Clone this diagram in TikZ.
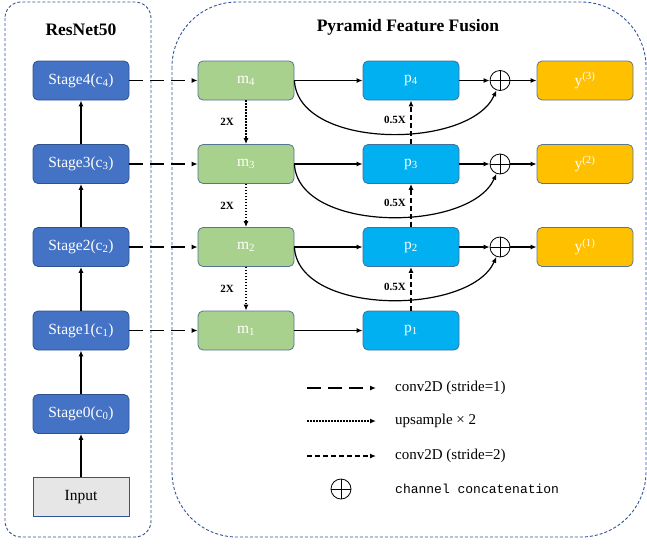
\documentclass[tikz,border=0pt]{standalone}
\usepackage{fontspec}
\setmainfont{Liberation Serif}
\newfontfamily\monofont{Liberation Mono}
\usetikzlibrary{arrows.meta}
\definecolor{stageblue}{HTML}{4472C4}
\definecolor{stageborder}{HTML}{2F528F}
\definecolor{mgreen}{HTML}{A9D18E}
\definecolor{pblue}{HTML}{00B0F0}
\definecolor{yyellow}{HTML}{FFC000}
\definecolor{boxborder}{HTML}{41719C}
\definecolor{inputgray}{HTML}{E7E6E6}
\definecolor{contborder}{HTML}{2F5597}
\tikzset{
  box/.style={rounded corners=5pt, minimum width=96pt, minimum height=39pt, line width=0.8pt, text=white, font=\fontsize{15.5}{15.5}\selectfont, inner sep=0pt},
  stagebox/.style={box, fill=stageblue, draw=stageborder},
  mbox/.style={box, fill=mgreen, draw=boxborder!70!gray},
  pbox/.style={box, fill=pblue, draw=boxborder},
  ybox/.style={box, fill=yyellow, draw=boxborder!60!gray},
  inputbox/.style={minimum width=96pt, minimum height=39pt, fill=inputgray, draw=contborder, line width=0.8pt, font=\fontsize{15.5}{15.5}\selectfont, inner sep=0pt},
  cat/.style={circle, draw=black, line width=0.8pt, minimum size=20pt, inner sep=0pt, path picture={\draw[line width=0.8pt] (path picture bounding box.north) -- (path picture bounding box.south) (path picture bounding box.west) -- (path picture bounding box.east);}},
  arr/.style={line width=1.6pt, -{Latex[length=6pt,width=5pt]}},
  thinarr/.style={line width=1.2pt, -{Latex[length=6pt,width=5pt]}},
  longdash/.style={arr, dash pattern=on 14pt off 7pt},
  dotarr/.style={arr, dash pattern=on 1.5pt off 1.5pt},
  shortdash/.style={arr, dash pattern=on 5pt off 3pt},
  container/.style={draw=contborder, line width=0.9pt, dash pattern=on 3pt off 2pt},
  lbl/.style={font=\bfseries\fontsize{11}{11}\selectfont},
  legtext/.style={anchor=west, font=\fontsize{15}{15}\selectfont, inner sep=0pt},
}
\begin{document}
\begin{tikzpicture}[x=1pt,y=-1pt]
\useasboundingbox (0,0) rectangle (647,544);
% containers
\draw[container, rounded corners=16pt] (5,2) rectangle (151,537);
\draw[container, rounded corners=65pt] (172,2) rectangle (646,537);
\node[font=\bfseries\fontsize{17.5}{17.5}\selectfont] (t1) at (81,30) {ResNet50};
\node[font=\bfseries\fontsize{17.5}{17.5}\selectfont] (t2) at (408,27) {Pyramid Feature Fusion};
% backbone
\node[stagebox] (s4) at (81,80.5) {Stage4(c\textsubscript{4})};
\node[stagebox] (s3) at (81,164) {Stage3(c\textsubscript{3})};
\node[stagebox] (s2) at (81,247) {Stage2(c\textsubscript{2})};
\node[stagebox] (s1) at (81,330.5) {Stage1(c\textsubscript{1})};
\node[stagebox] (s0) at (81,414) {Stage0(c\textsubscript{0})};
\node[inputbox] (in) at (81,497) {Input};
\draw[arr] (in) -- (s0);
\draw[arr] (s0) -- (s1);
\draw[arr] (s1) -- (s2);
\draw[arr] (s2) -- (s3);
\draw[arr] (s3) -- (s4);
% m nodes
\node[mbox] (m4) at (246,80.5) {m\textsubscript{4}};
\node[mbox] (m3) at (246,164) {m\textsubscript{3}};
\node[mbox] (m2) at (246,247) {m\textsubscript{2}};
\node[mbox] (m1) at (246,330.5) {m\textsubscript{1}};
% p nodes
\node[pbox] (p4) at (411,80.5) {p\textsubscript{4}};
\node[pbox] (p3) at (411,164) {p\textsubscript{3}};
\node[pbox] (p2) at (411,247) {p\textsubscript{2}};
\node[pbox] (p1) at (411,330.5) {p\textsubscript{1}};
% concat
\node[cat] (c4) at (500,80.5) {};
\node[cat] (c3) at (500,164) {};
\node[cat] (c2) at (500,247) {};
% outputs
\node[ybox] (y3) at (585,80.5) {y\textsuperscript{(3)}};
\node[ybox] (y2) at (585,164) {y\textsuperscript{(2)}};
\node[ybox] (y1) at (585,247) {y\textsuperscript{(1)}};
% stage -> m
\draw[longdash] (s4) -- (m4);
\draw[longdash] (s3) -- (m3);
\draw[longdash] (s2) -- (m2);
\draw[longdash] (s1) -- (m1);
% upsample
\draw[dotarr] (m4) -- node[lbl, left=8pt] {2X} (m3);
\draw[dotarr] (m3) -- node[lbl, left=8pt] {2X} (m2);
\draw[dotarr] (m2) -- node[lbl, left=8pt] {2X} (m1);
% m -> p
\draw[arr] (m4) -- (p4);
\draw[arr] (m3) -- (p3);
\draw[arr] (m2) -- (p2);
\draw[arr] (m1) -- (p1);
% stride 2
\draw[shortdash] (p3) -- node[lbl, left=1pt, pos=0.55] {0.5X} (p4);
\draw[shortdash] (p2) -- node[lbl, left=1pt, pos=0.55] {0.5X} (p3);
\draw[shortdash] (p1) -- node[lbl, left=1pt, pos=0.55] {0.5X} (p2);
% p -> concat -> y
\draw[arr] (p4) -- (c4);
\draw[arr] (p3) -- (c3);
\draw[arr] (p2) -- (c2);
\draw[arr] (c4) -- (y3);
\draw[arr] (c3) -- (y2);
\draw[arr] (c2) -- (y1);
% skip curves
\draw[thinarr] (m4.east) .. controls (298,150) and (470,150) .. (c4.-110);
\draw[thinarr] (m3.east) .. controls (298,233) and (470,233) .. (c3.-110);
\draw[thinarr] (m2.east) .. controls (298,316) and (470,316) .. (c2.-110);
% legend
\coordinate (la1) at (307,388); \coordinate (lb1) at (376,388);
\coordinate (la2) at (307,421); \coordinate (lb2) at (376,421);
\coordinate (la3) at (307,456); \coordinate (lb3) at (376,456);
\draw[longdash] (la1) -- (lb1);
\draw[dotarr] (la2) -- (lb2);
\draw[shortdash] (la3) -- (lb3);
\node[cat] (lc) at (341,489) {};
\node[legtext] (lt1) at (395,388) {conv2D (stride=1)};
\node[legtext] (lt2) at (395,421) {upsample × 2};
\node[legtext] (lt3) at (395,456) {conv2D (stride=2)};
\node[legtext, font=\monofont\fontsize{13}{13}\selectfont] (lt4) at (395,489) {channel concatenation};
\end{tikzpicture}
\end{document}
